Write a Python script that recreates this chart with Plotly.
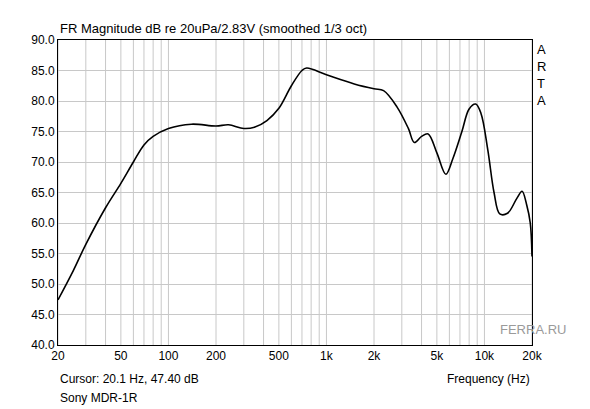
import plotly.graph_objects as go

freq = [20, 25, 30, 40, 50, 60, 70, 80, 100, 140, 200, 240, 300, 350, 420, 500, 600, 700, 750,
        1000, 1500, 2000, 2300, 2800, 3300, 3600, 4000, 4400, 5000, 5700, 6300, 7200, 8000,
        8800, 9500, 10500, 11500, 12500, 14000, 16000, 17300, 18500, 19500, 20000]
db = [47.4, 52.2, 56.5, 62.5, 66.5, 70.0, 72.8, 74.2, 75.5, 76.2, 75.9, 76.1, 75.5, 75.7, 76.8,
      78.8, 82.5, 85.0, 85.4, 84.3, 82.8, 82.0, 81.7, 79.0, 75.5, 73.2, 74.2, 74.6, 71.5, 68.0,
      70.5, 75.0, 78.7, 79.5, 78.0, 72.0, 65.0, 61.5, 61.6, 64.0, 65.2, 63.0, 60.0, 54.5]

x_ticks = [20, 50, 100, 200, 500, 1000, 2000, 5000, 10000, 20000]
x_labels = ["20", "50", "100", "200", "500", "1k", "2k", "5k", "10k", "20k"]
y_ticks = [40, 45, 50, 55, 60, 65, 70, 75, 80, 85, 90]

# all log grid lines 20..20k
grid = [m * 10 ** d for d in range(1, 5) for m in range(1, 10)]
grid = [g for g in grid if 20 <= g <= 20000]

fig = go.Figure()
fig.add_trace(go.Scatter(x=freq, y=db, mode="lines", line=dict(color="black", width=1.6, shape="spline"),
                         hoverinfo="skip"))

for g in grid:
    fig.add_shape(type="line", x0=g, x1=g, y0=40, y1=90, xref="x", yref="y",
                  line=dict(color="#c8c8c8", width=1), layer="below")

# page body has an 8px margin, so the margins are shifted to compensate
fig.update_layout(
    width=590, height=409, showlegend=False,
    paper_bgcolor="white", plot_bgcolor="white",
    margin=dict(l=50, r=66, t=32, b=72),
    font=dict(family="Arial, Liberation Sans", size=12, color="black"),
    xaxis=dict(type="log", range=[1.30103, 4.30103], tickvals=x_ticks, ticktext=x_labels,
               showgrid=False, showline=True, linecolor="black", mirror=True, ticks=""),
    yaxis=dict(range=[40, 90], tickvals=y_ticks, ticktext=["%.1f" % v for v in y_ticks],
               showgrid=True, gridcolor="#c8c8c8", showline=True, linecolor="black", mirror=True,
               ticks="", zeroline=False),
    annotations=[
        dict(text="FR Magnitude dB re 20uPa/2.83V (smoothed 1/3 oct)", xref="paper", yref="paper",
             x=0, y=1, yshift=2, xanchor="left", yanchor="bottom", showarrow=False, font=dict(size=13)),
        dict(text="A<br>R<br>T<br>A", xref="paper", yref="paper", x=1, y=1, xshift=3,
             xanchor="left", yanchor="top", showarrow=False, align="left", font=dict(size=13)),
        dict(text="Cursor: 20.1 Hz, 47.40 dB", xref="paper", yref="paper", x=0, y=0, yshift=-25,
             xanchor="left", yanchor="top", showarrow=False),
        dict(text="Sony MDR-1R", xref="paper", yref="paper", x=0, y=0, yshift=-44,
             xanchor="left", yanchor="top", showarrow=False),
        dict(text="Frequency (Hz)", xref="paper", yref="paper", x=1, y=0, yshift=-25,
             xanchor="right", yanchor="top", showarrow=False),
        dict(text="FERRA.RU", xref="paper", yref="paper", x=1, y=0, xshift=36, yshift=6,
             xanchor="right", yanchor="bottom", showarrow=False, font=dict(size=13, color="#9a9a9a")),
    ],
)

fig.write_html("out.html")
